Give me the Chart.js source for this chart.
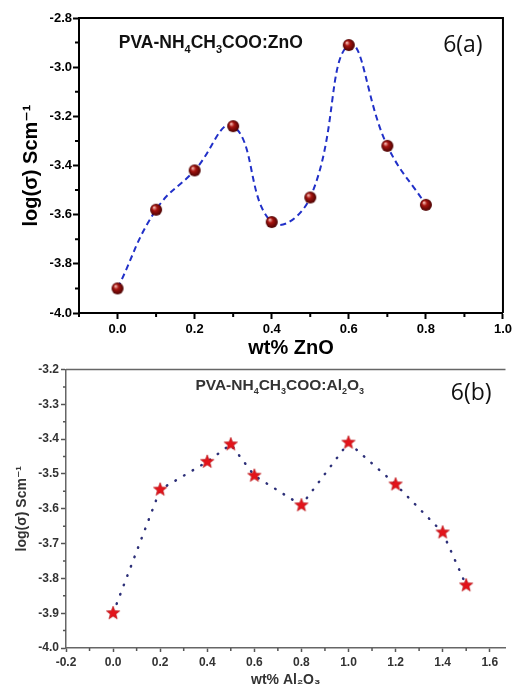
<!DOCTYPE html>
<html>
<head>
    <title>log(σ) vs filler content</title>
    <script src="https://cdn.jsdelivr.net/npm/chart.js"></script>
    <style>
        body {
            margin: 0;
            background: #ffffff;
        }

        .panel {
            position: absolute;
            left: 0;
        }

        #chartA {
            top: 0;
        }

        #chartB {
            top: 360px;
        }
    </style>
</head>
<body>
    <canvas id="chartA" class="panel" width="515" height="360"></canvas>
    <canvas id="chartB" class="panel" width="515" height="329"></canvas>

    <script>
        // panel 6(a): PVA-NH4CH3COO:ZnO
        var znoWt = [0.0, 0.1, 0.2, 0.3, 0.4, 0.5, 0.6, 0.7, 0.8];
        var znoLogSigma = [-3.90, -3.58, -3.42, -3.24, -3.63, -3.53, -2.91, -3.32, -3.56];
        var znoXTicks = [0.0, 0.2, 0.4, 0.6, 0.8, 1.0];
        var znoXMinor = [-0.1, 0.1, 0.3, 0.5, 0.7, 0.9];
        var znoYTicks = [-4.0, -3.8, -3.6, -3.4, -3.2, -3.0, -2.8];
        var znoYMinor = [-3.9, -3.7, -3.5, -3.3, -3.1, -2.9];

        // panel 6(b): PVA-NH4CH3COO:Al2O3
        var alWt = [0.0, 0.2, 0.4, 0.5, 0.6, 0.8, 1.0, 1.2, 1.4, 1.5];
        var alLogSigma = [-3.90, -3.545, -3.465, -3.415, -3.505, -3.59, -3.41, -3.53, -3.668, -3.82];
        var alXTicks = [-0.2, 0.0, 0.2, 0.4, 0.6, 0.8, 1.0, 1.2, 1.4, 1.6];
        var alXMinor = [-0.1, 0.1, 0.3, 0.5, 0.7, 0.9, 1.1, 1.3, 1.5];
        var alYTicks = [-4.0, -3.9, -3.8, -3.7, -3.6, -3.5, -3.4, -3.3, -3.2];
        var alYMinor = [-3.95, -3.85, -3.75, -3.65, -3.55, -3.45, -3.35, -3.25];

        var sansFamily = "'Liberation Sans', Arial, 'DejaVu Sans', sans-serif";
        Chart.defaults.font.family = sansFamily;
        Chart.defaults.color = '#000';

        function toPoints(xs, ys) {
            return xs.map(function (x, i) { return { x: x, y: ys[i] }; });
        }

        // shaded dark red ball used as marker in (a)
        function makeSphere(r) {
            var c = document.createElement('canvas');
            c.width = c.height = r * 2 + 2;
            var g = c.getContext('2d');
            var cx = r + 1, cy = r + 1;
            var grad = g.createRadialGradient(cx - r * 0.35, cy - r * 0.4, r * 0.1, cx, cy, r);
            grad.addColorStop(0, '#f0b0a8');
            grad.addColorStop(0.35, '#a8140f');
            grad.addColorStop(1, '#4a0202');
            g.fillStyle = grad;
            g.beginPath();
            g.arc(cx, cy, r, 0, Math.PI * 2);
            g.fill();
            return c;
        }

        // filled red five point star used as marker in (b)
        function makeStar(r) {
            var c = document.createElement('canvas');
            c.width = c.height = r * 2 + 2;
            var g = c.getContext('2d');
            var cx = r + 1, cy = r + 1;
            g.beginPath();
            for (var i = 0; i < 10; i++) {
                var rad = i % 2 === 0 ? r : r * 0.42;
                var a = -Math.PI / 2 + i * Math.PI / 5;
                g.lineTo(cx + rad * Math.cos(a), cy + rad * Math.sin(a));
            }
            g.closePath();
            g.fillStyle = '#e3141b';
            g.fill();
            g.strokeStyle = '#b0080c';
            g.lineWidth = 0.6;
            g.stroke();
            return c;
        }

        // short ticks between the labelled ones
        var minorTicks = {
            id: 'minorTicks',
            afterDraw: function (chart, args, opts) {
                var ctx = chart.ctx, xs = chart.scales.x, ys = chart.scales.y;
                ctx.save();
                ctx.strokeStyle = opts.color;
                ctx.lineWidth = opts.width;
                ctx.beginPath();
                opts.x.forEach(function (v) {
                    var px = xs.getPixelForValue(v);
                    ctx.moveTo(px, xs.top);
                    ctx.lineTo(px, xs.top + opts.len);
                });
                opts.y.forEach(function (v) {
                    var py = ys.getPixelForValue(v);
                    ctx.moveTo(ys.right, py);
                    ctx.lineTo(ys.right - opts.len, py);
                });
                ctx.stroke();
                ctx.restore();
            }
        };

        // top and right edges of the box
        var frame = {
            id: 'frame',
            afterDraw: function (chart, args, opts) {
                var a = chart.chartArea, ctx = chart.ctx;
                ctx.save();
                ctx.strokeStyle = opts.color;
                ctx.lineWidth = opts.width;
                ctx.beginPath();
                ctx.moveTo(a.left, a.top);
                ctx.lineTo(a.right, a.top);
                if (opts.right) {
                    ctx.lineTo(a.right, a.bottom);
                }
                ctx.stroke();
                ctx.restore();
            }
        };

        // free text inside the plot, placed in data coordinates;
        // parts flagged 1 are drawn as small lowered subscripts
        var notes = {
            id: 'notes',
            afterDraw: function (chart, args, opts) {
                var ctx = chart.ctx;
                ctx.save();
                ctx.textAlign = 'left';
                ctx.textBaseline = 'middle';
                opts.items.forEach(function (t) {
                    var mainFont = t.weight + ' ' + t.size + 'px ' + t.family;
                    var subFont = t.weight + ' ' + Math.round(t.size * 0.6) + 'px ' + t.family;
                    var total = 0;
                    t.parts.forEach(function (p) {
                        ctx.font = p[1] ? subFont : mainFont;
                        total += ctx.measureText(p[0]).width;
                    });
                    var x = chart.scales.x.getPixelForValue(t.x) - total / 2;
                    var y = chart.scales.y.getPixelForValue(t.y);
                    ctx.fillStyle = t.color;
                    t.parts.forEach(function (p) {
                        ctx.font = p[1] ? subFont : mainFont;
                        ctx.fillText(p[0], x, p[1] ? y + t.size * 0.38 : y);
                        x += ctx.measureText(p[0]).width;
                    });
                });
                ctx.restore();
            }
        };

        function fixedTicks(list) {
            return function (axis) {
                axis.ticks = list.map(function (v) { return { value: v }; });
            };
        }

        function oneDecimal(v) {
            return Number(v).toFixed(1);
        }

        // ---- chart (a) ----
        new Chart(document.getElementById('chartA'), {
            type: 'line',
            data: {
                datasets: [{
                    data: toPoints(znoWt, znoLogSigma),
                    borderColor: '#2130c8',
                    borderWidth: 2,
                    borderDash: [6, 4],
                    tension: 0.45,
                    fill: false,
                    pointStyle: makeSphere(6),
                    pointRadius: 6
                }]
            },
            options: {
                responsive: false,
                animation: false,
                layout: { padding: { left: 0, right: 12, top: 18, bottom: 0 } },
                plugins: {
                    legend: { display: false },
                    tooltip: { enabled: false },
                    minorTicks: { x: znoXMinor, y: znoYMinor, len: 4, color: '#000', width: 2 },
                    frame: { color: '#000', width: 2, right: true },
                    notes: {
                        items: [
                            {
                                parts: [['PVA-NH', 0], ['4', 1], ['CH', 0], ['3', 1], ['COO:ZnO', 0]],
                                x: 0.242, y: -2.902, size: 17.5, weight: 'bold', family: sansFamily, color: '#111'
                            },
                            {
                                parts: [['6(a)', 0]],
                                x: 0.896, y: -2.91, size: 23, weight: 'normal', family: "'Open Sans', sans-serif", color: '#111'
                            }
                        ]
                    }
                },
                scales: {
                    x: {
                        type: 'linear',
                        min: -0.1,
                        max: 1.0,
                        afterBuildTicks: fixedTicks(znoXTicks),
                        afterFit: function (s) { s.height = 47; },
                        grid: { display: true, drawOnChartArea: false, drawTicks: true, tickLength: 6, tickWidth: 2, tickColor: '#000' },
                        border: { display: true, color: '#000', width: 2 },
                        ticks: { font: { size: 13, weight: 'bold' }, padding: 3, maxRotation: 0, callback: oneDecimal },
                        title: { display: true, text: 'wt% ZnO', font: { size: 20, weight: 'bold' }, padding: { top: 0, bottom: 0 } }
                    },
                    y: {
                        type: 'linear',
                        min: -4.0,
                        max: -2.8,
                        afterBuildTicks: fixedTicks(znoYTicks),
                        afterFit: function (s) { s.width = 79; },
                        grid: { display: true, drawOnChartArea: false, drawTicks: true, tickLength: 6, tickWidth: 2, tickColor: '#000' },
                        border: { display: true, color: '#000', width: 2 },
                        ticks: { font: { size: 13, weight: 'bold' }, padding: 1, callback: oneDecimal },
                        title: { display: true, text: 'log(σ) Scm⁻¹', font: { size: 20, weight: 'bold' }, padding: { top: 19, bottom: 0 } }
                    }
                }
            },
            plugins: [minorTicks, frame, notes]
        });

        // ---- chart (b) ----
        new Chart(document.getElementById('chartB'), {
            type: 'line',
            data: {
                datasets: [{
                    data: toPoints(alWt, alLogSigma),
                    borderColor: '#2c2f78',
                    borderWidth: 2.5,
                    borderDash: [0.5, 9.5],
                    borderCapStyle: 'round',
                    tension: 0,
                    fill: false,
                    pointStyle: makeStar(7),
                    pointRadius: 7
                }]
            },
            options: {
                responsive: false,
                animation: false,
                layout: { padding: { left: 0, right: 0, top: 9, bottom: 0 } },
                plugins: {
                    legend: { display: false },
                    tooltip: { enabled: false },
                    minorTicks: { x: alXMinor, y: alYMinor, len: 3, color: '#555', width: 1.5 },
                    frame: { color: '#666', width: 1.5, right: false },
                    notes: {
                        items: [
                            {
                                parts: [['PVA-NH', 0], ['4', 1], ['CH', 0], ['3', 1], ['COO:Al', 0], ['2', 1], ['O', 0], ['3', 1]],
                                x: 0.708, y: -3.246, size: 15.5, weight: 'bold', family: sansFamily, color: '#333'
                            },
                            {
                                parts: [['6(b)', 0]],
                                x: 1.521, y: -3.269, size: 23, weight: 'normal', family: "'Open Sans', sans-serif", color: '#111'
                            }
                        ]
                    }
                },
                scales: {
                    x: {
                        type: 'linear',
                        min: -0.2,
                        max: 1.667,
                        afterBuildTicks: fixedTicks(alXTicks),
                        afterFit: function (s) { s.height = 41; },
                        grid: { display: true, drawOnChartArea: false, drawTicks: true, tickLength: 4, tickWidth: 1.5, tickColor: '#555' },
                        border: { display: true, color: '#666', width: 1.5 },
                        ticks: { font: { size: 12, weight: 'bold' }, color: '#333', padding: 3, maxRotation: 0, callback: oneDecimal },
                        title: { display: true, text: 'wt% Al₂O₃', font: { size: 14, weight: 'bold' }, color: '#333', padding: { top: 0, bottom: 0 } }
                    },
                    y: {
                        type: 'linear',
                        min: -4.0,
                        max: -3.2,
                        afterBuildTicks: fixedTicks(alYTicks),
                        afterFit: function (s) { s.width = 66; },
                        grid: { display: true, drawOnChartArea: false, drawTicks: true, tickLength: 5, tickWidth: 1.5, tickColor: '#555' },
                        border: { display: true, color: '#666', width: 1.5 },
                        ticks: { font: { size: 12, weight: 'bold' }, color: '#333', padding: 2, callback: oneDecimal },
                        title: { display: true, text: 'log(σ) Scm⁻¹', font: { size: 14, weight: 'bold' }, color: '#333', padding: { top: 14, bottom: 0 } }
                    }
                }
            },
            plugins: [minorTicks, frame, notes]
        });
    </script>
</body>
</html>
